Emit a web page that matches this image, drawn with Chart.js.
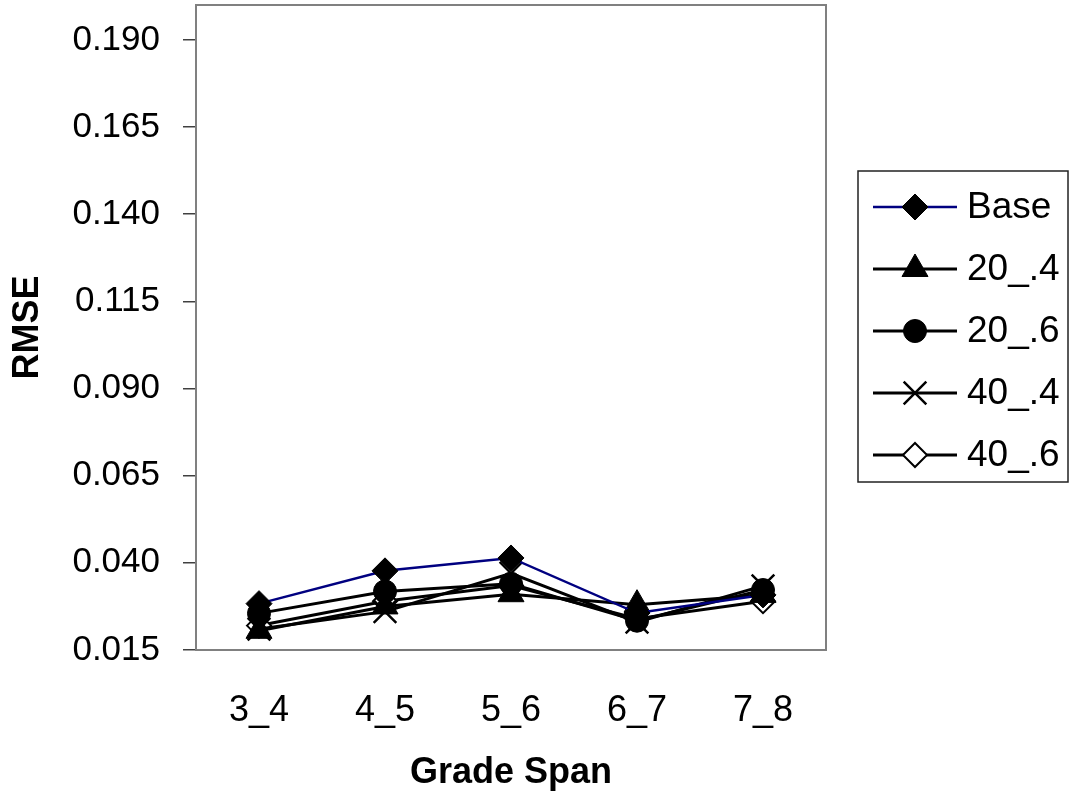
<!DOCTYPE html>
<html>
<head>
<meta charset="utf-8">
<script src="https://cdn.jsdelivr.net/npm/chart.js@4/dist/chart.umd.min.js"></script>
<style>
  html, body { margin: 0; padding: 0; background: #fff; }
  #wrap { width: 1070px; height: 800px; }
</style>
</head>
<body>
<div id="wrap"><canvas id="rmse-chart" width="1070" height="800"></canvas></div>
<script>
// values
const gradeSpans = ['3_4', '4_5', '5_6', '6_7', '7_8'];
const yTicks = [0.015, 0.040, 0.065, 0.090, 0.115, 0.140, 0.165, 0.190];
const base  = [0.0283, 0.0377, 0.0414, 0.0256, 0.0308];
const s20_4 = [0.0205, 0.0275, 0.0310, 0.0280, 0.0308];
const s20_6 = [0.0255, 0.0318, 0.0340, 0.0234, 0.0322];
const s40_4 = [0.0210, 0.0260, 0.0370, 0.0230, 0.0334];
const s40_6 = [0.0220, 0.0290, 0.0335, 0.0240, 0.0290];

const FONT = '"Liberation Sans", Arial, Helvetica, sans-serif';

function series(label, data, opts) {
  return Object.assign({
    label: label,
    data: data,
    borderColor: '#000',
    borderWidth: 3,
    pointBackgroundColor: '#000',
    pointBorderColor: '#000',
    pointBorderWidth: 1,
    tension: 0,
    fill: false
  }, opts);
}

const datasets = [
  series('Base', base, { borderColor: '#000080', borderWidth: 2.5, pointStyle: 'rectRot', pointRadius: 13 }),
  series('20_.4', s20_4, { pointStyle: 'triangle', pointRadius: 15 }),
  series('20_.6', s20_6, { pointStyle: 'circle', pointRadius: 11.5 }),
  series('40_.4', s40_4, { pointStyle: 'crossRot', pointRadius: 16, pointBorderWidth: 2.5 }),
  series('40_.6', s40_6, { pointStyle: 'rectRot', pointRadius: 12, pointBackgroundColor: '#fff', pointBorderWidth: 2 })
];
datasets.forEach(d => { d.pointHoverRadius = d.pointRadius; });

// plot frame + legend with line-through-marker samples
const frameAndLegend = {
  id: 'frameAndLegend',
  afterDraw(chart) {
    const ctx = chart.ctx;
    const a = chart.chartArea;
    ctx.save();
    ctx.strokeStyle = '#808080';
    ctx.lineWidth = 2;
    ctx.strokeRect(a.left, a.top, a.right - a.left, a.bottom - a.top);

    const bx = a.right + 32, by = 171, bw = 210, bh = 311;
    ctx.strokeStyle = '#222';
    ctx.lineWidth = 1.5;
    ctx.strokeRect(bx, by, bw, bh);

    ctx.font = '37px ' + FONT;
    ctx.textBaseline = 'middle';
    ctx.textAlign = 'left';
    chart.data.datasets.forEach((ds, i) => {
      const y = by + 36 + i * 62;
      ctx.beginPath();
      ctx.strokeStyle = ds.borderColor;
      ctx.lineWidth = ds.borderWidth;
      ctx.moveTo(bx + 15, y);
      ctx.lineTo(bx + 99, y);
      ctx.stroke();
      ctx.fillStyle = ds.pointBackgroundColor;
      ctx.strokeStyle = ds.pointBorderColor;
      ctx.lineWidth = ds.pointBorderWidth;
      Chart.helpers.drawPoint(ctx, {
        pointStyle: ds.pointStyle,
        radius: ds.pointRadius,
        rotation: 0,
        borderWidth: ds.pointBorderWidth
      }, bx + 57, y);
      ctx.fillStyle = '#000';
      ctx.fillText(ds.label, bx + 109, y + 1);
    });
    ctx.restore();
  }
};

new Chart(document.getElementById('rmse-chart').getContext('2d'), {
  type: 'line',
  data: { labels: gradeSpans, datasets: datasets },
  options: {
    responsive: false,
    animation: false,
    layout: { autoPadding: false, padding: { left: 0, top: 5, right: 244, bottom: 0 } },
    plugins: { legend: { display: false }, tooltip: { enabled: false } },
    scales: {
      x: {
        offset: true,
        grid: { display: false },
        border: { display: false },
        ticks: { color: '#000', font: { family: FONT, size: 36 }, padding: 31 },
        title: { display: true, text: 'Grade Span', color: '#000',
          font: { family: FONT, size: 36, weight: 'bold' }, padding: { top: 0, bottom: 5 } },
        afterFit(scale) {
          scale.height = 150;
          scale.paddingLeft = 0;
          scale.paddingRight = 0;
        }
      },
      y: {
        min: 0.015,
        max: 0.2,
        grid: { drawOnChartArea: false, drawTicks: true, tickLength: 13, color: '#404040', lineWidth: 1.5 },
        border: { display: false },
        ticks: {
          color: '#000',
          font: { family: FONT, size: 35 },
          padding: 23,
          callback: v => v.toFixed(3)
        },
        afterBuildTicks(scale) { scale.ticks = yTicks.map(v => ({ value: v })); },
        title: { display: true, text: 'RMSE', color: '#000',
          font: { family: FONT, size: 36, weight: 'bold' }, padding: { top: 6, bottom: 0 } },
        afterFit(scale) {
          scale.width = 196;
          scale.paddingTop = 0;
          scale.paddingBottom = 0;
        }
      }
    }
  },
  plugins: [frameAndLegend]
});
</script>
</body>
</html>
